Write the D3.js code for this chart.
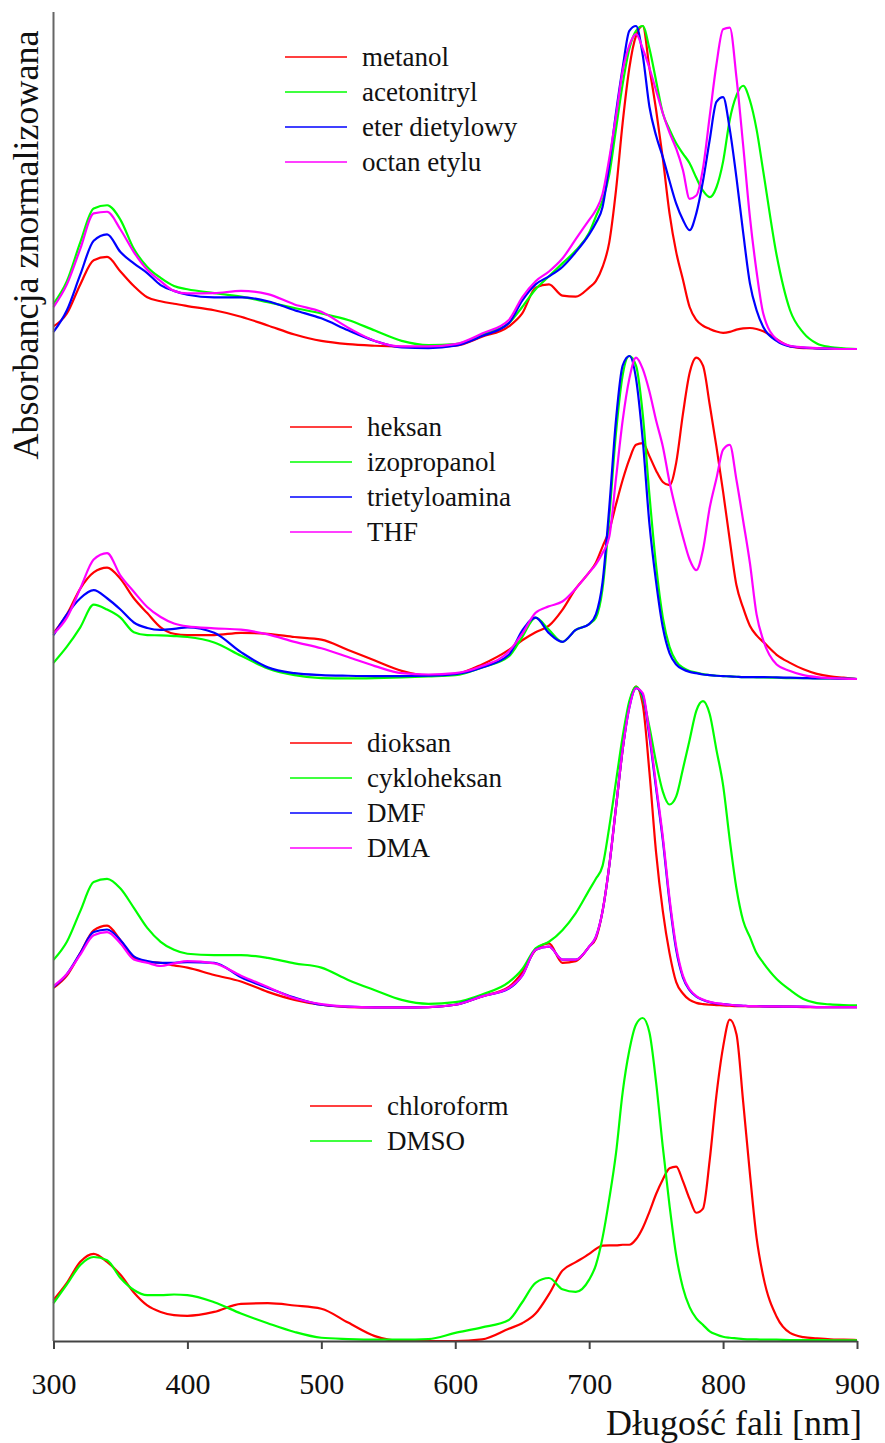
<!DOCTYPE html>
<html>
<head>
<meta charset="utf-8">
<script src="https://cdn.jsdelivr.net/npm/d3@7"></script>
<style>
body { margin: 0; background: #fff; }
svg { display: block; }
svg text { font-family: "Liberation Serif", "Times New Roman", serif; }
</style>
</head>
<body>
<svg id="chart"></svg>
<script>

// wavelength grid [nm], shared by every series
var wavelengths = [300, 310, 320, 330, 340, 350, 360, 370, 380, 390, 400,
    420, 440, 460, 480, 500, 520, 540, 560, 580, 600, 620, 640,
    650, 660, 670, 680, 690, 700,
    705, 710, 715, 720, 725, 730, 735, 740, 745, 750, 755, 760, 765, 770, 775, 780,
    785, 790, 795, 800, 805, 810, 815, 820, 825, 830,
    840, 850, 860, 870, 880, 890, 900];

// panel 1
var metanol = [0.07, 0.11, 0.2, 0.275, 0.285, 0.24, 0.195, 0.16, 0.148, 0.14, 0.133,
    0.12, 0.1, 0.073, 0.045, 0.025, 0.015, 0.01, 0.007, 0.006, 0.01, 0.038, 0.07,
    0.11, 0.19, 0.2, 0.165, 0.162, 0.19,
    0.21, 0.254, 0.33, 0.49, 0.7, 0.87, 0.97, 1.0, 0.87, 0.74, 0.59, 0.42, 0.3, 0.215, 0.13, 0.09,
    0.072, 0.062, 0.054, 0.05, 0.053, 0.06, 0.064, 0.065, 0.062, 0.055,
    0.03, 0.008, 0.003, 0.002, 0.001, 0, 0];
var acetonitryl = [0.14, 0.21, 0.33, 0.435, 0.445, 0.4, 0.31, 0.254, 0.22, 0.195, 0.185,
    0.173, 0.162, 0.145, 0.127, 0.11, 0.09, 0.057, 0.025, 0.012, 0.015, 0.045, 0.08,
    0.13, 0.185, 0.225, 0.265, 0.305, 0.36,
    0.41, 0.46, 0.54, 0.68, 0.82, 0.93, 0.985, 1.0, 0.93, 0.83, 0.73, 0.68, 0.637, 0.605, 0.575, 0.53,
    0.49, 0.47, 0.5, 0.58, 0.71, 0.785, 0.815, 0.77, 0.68, 0.55,
    0.29, 0.12, 0.05, 0.017, 0.006, 0.002, 0];
var eterDietylowy = [0.053, 0.12, 0.23, 0.335, 0.355, 0.3, 0.265, 0.235, 0.198, 0.18, 0.168,
    0.16, 0.16, 0.148, 0.12, 0.095, 0.058, 0.025, 0.005, 0.003, 0.01, 0.04, 0.08,
    0.15, 0.2, 0.225, 0.254, 0.3, 0.355,
    0.39, 0.44, 0.57, 0.73, 0.87, 0.985, 1.0, 0.91, 0.75, 0.66, 0.594, 0.52, 0.45, 0.4, 0.368, 0.42,
    0.52, 0.647, 0.765, 0.78, 0.68, 0.53, 0.36, 0.204, 0.12, 0.068,
    0.025, 0.008, 0.004, 0.002, 0.001, 0, 0];
var octanEtylu = [0.13, 0.2, 0.31, 0.42, 0.425, 0.37, 0.3, 0.245, 0.21, 0.18, 0.172,
    0.173, 0.18, 0.17, 0.138, 0.115, 0.066, 0.025, 0.008, 0.008, 0.015, 0.048, 0.09,
    0.16, 0.21, 0.24, 0.28, 0.34, 0.4,
    0.43, 0.48, 0.59, 0.72, 0.86, 0.94, 0.975, 0.93, 0.87, 0.8, 0.73, 0.67, 0.62, 0.554, 0.465, 0.475,
    0.56, 0.72, 0.88, 0.99, 0.995, 0.84, 0.63, 0.41, 0.24, 0.11,
    0.03, 0.01, 0.005, 0.003, 0.001, 0, 0];

// panel 2
var heksan = [0.142, 0.2, 0.28, 0.33, 0.345, 0.31, 0.25, 0.204, 0.16, 0.14, 0.136,
    0.136, 0.143, 0.14, 0.13, 0.122, 0.09, 0.057, 0.025, 0.01, 0.015, 0.045, 0.09,
    0.12, 0.145, 0.165, 0.214, 0.28, 0.33,
    0.36, 0.41, 0.46, 0.54, 0.616, 0.68, 0.725, 0.73, 0.69, 0.645, 0.61, 0.6, 0.67, 0.82, 0.947, 0.995,
    0.97, 0.85, 0.72, 0.58, 0.43, 0.29, 0.22, 0.165, 0.135, 0.115,
    0.075, 0.05, 0.03, 0.016, 0.008, 0.004, 0];
var izopropanol = [0.05, 0.1, 0.16, 0.23, 0.215, 0.19, 0.145, 0.136, 0.135, 0.133, 0.13,
    0.113, 0.072, 0.033, 0.012, 0.003, 0.002, 0.003, 0.005, 0.008, 0.012, 0.036, 0.07,
    0.13, 0.19, 0.152, 0.115, 0.152, 0.17,
    0.19, 0.28, 0.5, 0.76, 0.94, 1.0, 0.97, 0.82, 0.57, 0.35, 0.19, 0.1, 0.055, 0.035, 0.025, 0.02,
    0.015, 0.012, 0.01, 0.009, 0.008, 0.007, 0.006, 0.006, 0.005, 0.005,
    0.004, 0.003, 0.003, 0.002, 0.002, 0.001, 0];
var trietyloamina = [0.136, 0.2, 0.25, 0.275, 0.25, 0.215, 0.175, 0.158, 0.152, 0.155, 0.16,
    0.143, 0.083, 0.036, 0.018, 0.012, 0.01, 0.009, 0.009, 0.01, 0.015, 0.036, 0.075,
    0.15, 0.19, 0.142, 0.115, 0.152, 0.17,
    0.2, 0.3, 0.53, 0.8, 0.97, 1.0, 0.93, 0.74, 0.48, 0.3, 0.16, 0.08, 0.045, 0.03, 0.022, 0.018,
    0.014, 0.012, 0.01, 0.009, 0.008, 0.007, 0.006, 0.006, 0.006, 0.006,
    0.005, 0.004, 0.003, 0.002, 0.002, 0.001, 0];
var thf = [0.14, 0.19, 0.28, 0.37, 0.39, 0.32, 0.27, 0.223, 0.192, 0.172, 0.163,
    0.157, 0.153, 0.138, 0.115, 0.095, 0.068, 0.04, 0.018, 0.014, 0.018, 0.04, 0.085,
    0.14, 0.205, 0.225, 0.24, 0.28, 0.33,
    0.355, 0.39, 0.44, 0.62, 0.8, 0.93, 0.995, 0.96, 0.89, 0.8, 0.72, 0.61, 0.52, 0.44, 0.37, 0.337,
    0.4, 0.53, 0.62, 0.71, 0.725, 0.616, 0.49, 0.36, 0.2, 0.12,
    0.045, 0.025, 0.012, 0.006, 0.003, 0.001, 0];

// panel 3
var dioksan = [0.062, 0.1, 0.17, 0.24, 0.255, 0.21, 0.155, 0.142, 0.14, 0.132, 0.125,
    0.102, 0.082, 0.05, 0.025, 0.01, 0.003, 0.002, 0.002, 0.003, 0.01, 0.036, 0.065,
    0.11, 0.18, 0.2, 0.14, 0.145, 0.19,
    0.215, 0.3, 0.44, 0.62, 0.8, 0.94, 0.995, 0.94, 0.73, 0.48, 0.3, 0.17, 0.08, 0.045, 0.025, 0.016,
    0.012, 0.01, 0.009, 0.008, 0.007, 0.006, 0.006, 0.005, 0.005, 0.005,
    0.004, 0.004, 0.003, 0.003, 0.003, 0.003, 0.003];
var cykloheksan = [0.149, 0.205, 0.3, 0.39, 0.4, 0.37, 0.31, 0.248, 0.205, 0.18, 0.168,
    0.164, 0.164, 0.155, 0.138, 0.125, 0.087, 0.055, 0.025, 0.013, 0.018, 0.042, 0.08,
    0.12, 0.185, 0.205, 0.241, 0.294, 0.365,
    0.4, 0.44, 0.56, 0.7, 0.84, 0.95, 0.995, 0.96, 0.87, 0.76, 0.67, 0.63, 0.655, 0.74, 0.83, 0.92,
    0.95, 0.91, 0.8, 0.69, 0.52, 0.37, 0.27, 0.22, 0.17, 0.14,
    0.09, 0.056, 0.028, 0.015, 0.011, 0.009, 0.008];
var dmf = [0.065, 0.105, 0.17, 0.235, 0.243, 0.21, 0.16, 0.145, 0.14, 0.14, 0.142,
    0.14, 0.095, 0.062, 0.032, 0.01, 0.004, 0.002, 0.002, 0.003, 0.01, 0.036, 0.06,
    0.1, 0.18, 0.19, 0.15, 0.15, 0.19,
    0.22, 0.3, 0.44, 0.62, 0.8, 0.93, 0.99, 0.97, 0.84, 0.68, 0.52, 0.33, 0.18, 0.095, 0.055, 0.035,
    0.025, 0.018, 0.014, 0.012, 0.01, 0.008, 0.007, 0.006, 0.006, 0.005,
    0.005, 0.004, 0.004, 0.003, 0.003, 0.003, 0.003];
var dma = [0.068, 0.105, 0.165, 0.225, 0.235, 0.2, 0.15, 0.14, 0.13, 0.138, 0.145,
    0.138, 0.1, 0.065, 0.03, 0.012, 0.004, 0.002, 0.002, 0.003, 0.01, 0.036, 0.062,
    0.1, 0.18, 0.19, 0.15, 0.15, 0.19,
    0.22, 0.3, 0.44, 0.62, 0.8, 0.93, 0.99, 0.975, 0.85, 0.69, 0.53, 0.34, 0.19, 0.1, 0.058, 0.037,
    0.026, 0.019, 0.015, 0.012, 0.01, 0.008, 0.007, 0.006, 0.006, 0.005,
    0.005, 0.004, 0.004, 0.003, 0.003, 0.003, 0.003];

// panel 4
var chloroform = [0.127, 0.18, 0.245, 0.27, 0.245, 0.205, 0.15, 0.11, 0.09, 0.08, 0.078,
    0.09, 0.115, 0.117, 0.11, 0.1, 0.057, 0.015, 0, 0, 0, 0.005, 0.038,
    0.055, 0.085, 0.145, 0.218, 0.244, 0.27,
    0.285, 0.295, 0.296, 0.296, 0.298, 0.298, 0.315, 0.35, 0.4, 0.455, 0.5, 0.535, 0.54, 0.495, 0.44, 0.397,
    0.41, 0.56, 0.76, 0.91, 0.995, 0.95, 0.74, 0.52, 0.32, 0.2,
    0.075, 0.025, 0.012, 0.008, 0.005, 0.004, 0.003];
var dmso = [0.117, 0.175, 0.235, 0.26, 0.25, 0.195, 0.158, 0.142, 0.142, 0.144, 0.142,
    0.12, 0.085, 0.055, 0.028, 0.01, 0.006, 0.004, 0.004, 0.006, 0.025, 0.042, 0.065,
    0.12, 0.18, 0.195, 0.16, 0.152, 0.19,
    0.235, 0.32, 0.44, 0.58, 0.77, 0.9, 0.98, 1.0, 0.955, 0.8, 0.6, 0.42, 0.265, 0.165, 0.105, 0.07,
    0.05, 0.03, 0.02, 0.013, 0.01, 0.008, 0.006, 0.005, 0.005, 0.004,
    0.004, 0.003, 0.003, 0.003, 0.002, 0.002, 0.002];

var xTicks = [300, 400, 500, 600, 700, 800, 900];
var colors = ["#ff0000", "#00ff00", "#0000ff", "#ff00ff"];

var panels = [
    { base: 349, names: ["metanol", "acetonitryl", "eter dietylowy", "octan etylu"],
      series: [metanol, acetonitryl, eterDietylowy, octanEtylu], lx: 285, ly: 57 },
    { base: 679, names: ["heksan", "izopropanol", "trietyloamina", "THF"],
      series: [heksan, izopropanol, trietyloamina, thf], lx: 290, ly: 427 },
    { base: 1008, names: ["dioksan", "cykloheksan", "DMF", "DMA"],
      series: [dioksan, cykloheksan, dmf, dma], lx: 290, ly: 743 },
    { base: 1341, names: ["chloroform", "DMSO"],
      series: [chloroform, dmso], lx: 310, ly: 1106 }
];

var width = 885;
var height = 1443;
var panelHeight = 323;
var serif = '"Liberation Serif", "Times New Roman", serif';

var svg = d3.select("#chart")
    .attr("width", width)
    .attr("height", height);

var x = d3.scaleLinear()
    .domain([300, 900])
    .range([53.5, 857]);

panels.forEach(function (p) {
    var y = d3.scaleLinear()
        .domain([0, 1])
        .range([p.base, p.base - panelHeight]);

    var line = d3.line()
        .x(function (d, i) { return x(wavelengths[i]); })
        .y(function (d) { return y(d); })
        .curve(d3.curveMonotoneX);

    var g = svg.append("g");

    p.series.forEach(function (s, i) {
        g.append("path")
            .datum(s)
            .attr("d", line)
            .attr("fill", "none")
            .attr("stroke", colors[i])
            .attr("stroke-width", 2.2)
            .attr("stroke-linejoin", "round");
    });

    //legend
    var leg = g.selectAll(".leg")
        .data(p.names)
        .enter().append("g")
        .attr("transform", function (d, i) { return "translate(" + p.lx + "," + (p.ly + i * 35) + ")"; });

    leg.append("line")
        .attr("x1", 0)
        .attr("x2", 62)
        .attr("stroke", function (d, i) { return colors[i]; })
        .attr("stroke-width", 1.6);

    leg.append("text")
        .attr("x", 77)
        .attr("y", 9)
        .style("font-family", serif)
        .style("font-size", "27px")
        .attr("fill", "#111")
        .text(function (d) { return d; });
});

// y axis line, no ticks
svg.append("line")
    .attr("x1", 53.5).attr("x2", 53.5)
    .attr("y1", 12).attr("y2", 1341)
    .attr("stroke", "#666")
    .attr("stroke-width", 2);

var xAxis = d3.axisBottom(x)
    .tickValues(xTicks)
    .tickSize(8)
    .tickSizeOuter(0)
    .tickFormat(d3.format("d"));

var ax = svg.append("g")
    .attr("transform", "translate(0,1341)")
    .call(xAxis);

ax.attr("font-family", null).attr("font-size", null);
ax.select(".domain").attr("stroke", "#444").attr("stroke-width", 2);
ax.selectAll(".tick line").attr("stroke", "#444").attr("stroke-width", 2);
ax.selectAll(".tick text")
    .attr("y", 32)
    .attr("fill", "#111")
    .style("font-family", serif)
    .style("font-size", "30px");

svg.append("text")
    .attr("x", 862)
    .attr("y", 1435)
    .attr("text-anchor", "end")
    .style("font-family", serif)
    .style("font-size", "36px")
    .attr("fill", "#111")
    .text("Długość fali [nm]");

svg.append("text")
    .attr("transform", "translate(38,245) rotate(-90)")
    .attr("text-anchor", "middle")
    .style("font-family", serif)
    .style("font-size", "36px")
    .attr("fill", "#111")
    .text("Absorbancja znormalizowana");

</script>
</body>
</html>
